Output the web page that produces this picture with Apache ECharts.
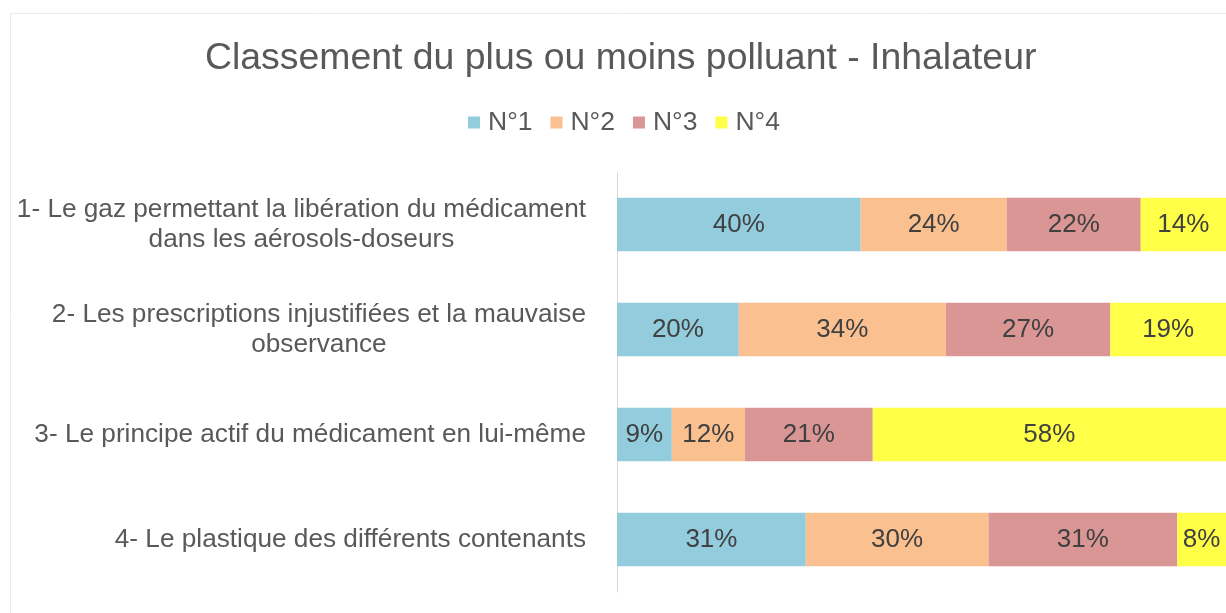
<!DOCTYPE html>
<html>
<head>
<meta charset="utf-8">
<script src="https://cdn.jsdelivr.net/npm/echarts@6/dist/echarts.min.js"></script>
<style>
  html, body { margin: 0; padding: 0; background: #fff; }
  #main { width: 1226px; height: 613px; }
</style>
</head>
<body>
<div id="main"></div>
<script>
// données (en %)
var categories = [
  '1- Le gaz permettant la libération du médicament\ndans les aérosols-doseurs',
  '2- Les prescriptions injustifiées et la mauvaise\nobservance',
  '3- Le principe actif du médicament en lui-même',
  '4- Le plastique des différents contenants'
];
var n1 = [40, 20, 9, 31];
var n2 = [24, 34, 12, 30];
var n3 = [22, 27, 21, 31];
var n4 = [14, 19, 58, 8];

var seriesNames = ['N°1', 'N°2', 'N°3', 'N°4'];
var colors = ['#93CDDD', '#FAC090', '#D99694', '#FFFF47'];
var values = [n1, n2, n3, n4];

var font = '"Liberation Sans", Arial, sans-serif';

echarts.init(document.getElementById('main')).setOption({
  animation: false,
  color: colors,
  graphic: [{
    type: 'rect',
    shape: { x: 10.5, y: 13.5, width: 1240, height: 620 },
    style: { fill: 'none', stroke: '#EEECE1', lineWidth: 1 },
    silent: true
  }],
  title: {
    text: 'Classement du plus ou moins polluant - Inhalateur',
    left: 200,
    top: 35,
    textStyle: { fontFamily: font, fontSize: 37.4, fontWeight: 'normal', color: '#595959' }
  },
  legend: {
    data: seriesNames,
    top: 104,
    left: 463,
    itemWidth: 12,
    itemHeight: 12,
    itemGap: 18,
    icon: 'rect',
    textStyle: { fontFamily: font, fontSize: 26.5, color: '#595959', padding: [0, 0, 0, 3] }
  },
  grid: { left: 617, right: 0, top: 172, bottom: 21, containLabel: false },
  xAxis: {
    type: 'value',
    min: 0,
    max: 100,
    show: false
  },
  yAxis: {
    type: 'category',
    inverse: true,
    data: categories,
    axisLine: { lineStyle: { color: '#D9D9D9', width: 1 } },
    axisTick: { show: false },
    axisLabel: {
      interval: 0,
      margin: 31,
      fontFamily: font,
      fontSize: 26.2,
      color: '#595959',
      lineHeight: 30,
      formatter: function (v) {
        return v.split('\n').map(function (l) { return '{c|' + l + '}'; }).join('\n');
      },
      rich: { c: { align: 'center', fontFamily: font, fontSize: 26.2, color: '#595959', lineHeight: 30 } }
    }
  },
  series: seriesNames.map(function (name, i) {
    return {
      type: 'bar',
      name: name,
      stack: 'total',
      barWidth: '51%',
      data: values[i],
      label: {
        show: true,
        position: 'inside',
        formatter: '{c}%',
        fontFamily: font,
        fontSize: 26,
        color: '#404040'
      }
    };
  })
});
</script>
</body>
</html>
